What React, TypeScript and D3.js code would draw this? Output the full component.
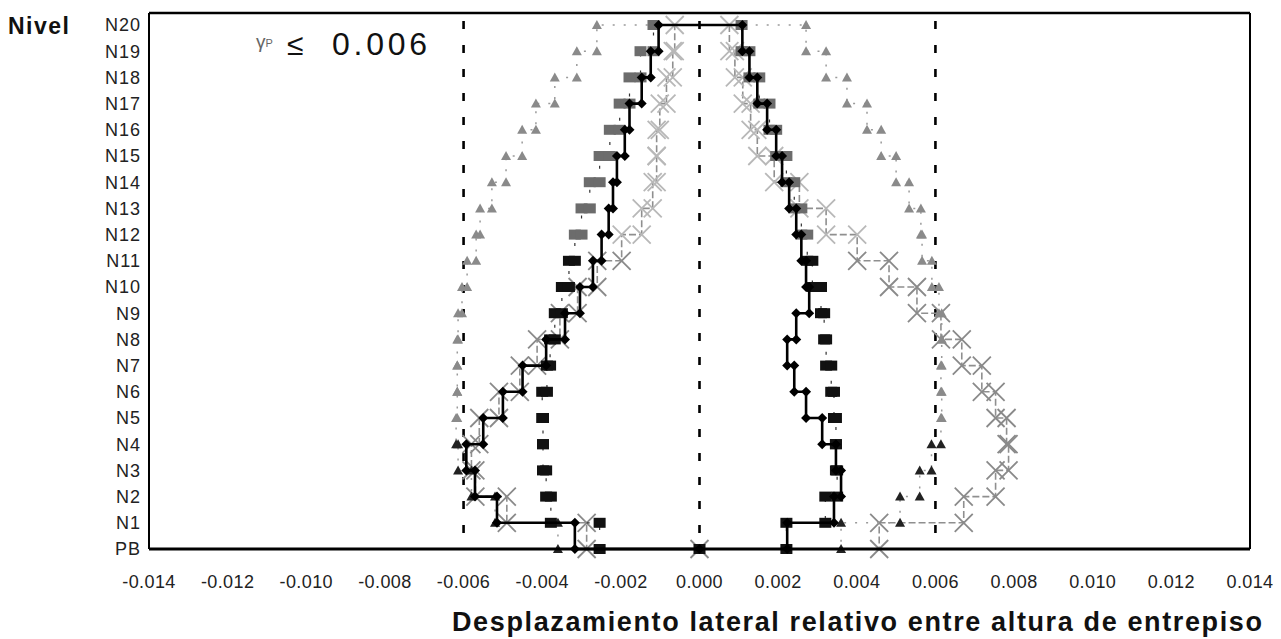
import * as d3 from "d3";

// levels from ground (PB) to roof (N20)
const levels = ["PB", "N1", "N2", "N3", "N4", "N5", "N6", "N7", "N8", "N9", "N10",
  "N11", "N12", "N13", "N14", "N15", "N16", "N17", "N18", "N19", "N20"];
const xTicks = [-0.014, -0.012, -0.010, -0.008, -0.006, -0.004, -0.002, 0.0,
  0.002, 0.004, 0.006, 0.008, 0.010, 0.012, 0.014];
const limitLines = [-0.006, 0, 0.006];

// drift per storey, storey 1 (PB-N1) ... storey 20 (N19-N20)
const diamondNeg = [-0.00317, -0.00515, -0.00571, -0.00593, -0.0055, -0.0050, -0.0045, -0.0039, -0.00342, -0.00304,
  -0.00271, -0.00249, -0.00231, -0.0022, -0.0021, -0.0019, -0.00178, -0.00147, -0.00124, -0.00104];
const diamondPos = [0.00223, 0.00342, 0.0036, 0.00347, 0.00312, 0.00271, 0.00241, 0.00223, 0.00246, 0.00279,
  0.00271, 0.00259, 0.00246, 0.00228, 0.0021, 0.00195, 0.00172, 0.00147, 0.00127, 0.00109];
const squareNeg = [-0.00254, -0.00378, -0.0039, -0.00398, -0.00398, -0.004, -0.00388, -0.0038, -0.00368, -0.0035,
  -0.00332, -0.00317, -0.003, -0.00279, -0.00254, -0.00228, -0.00203, -0.00178, -0.0015, -0.00117];
const squarePos = [0.00221, 0.0032, 0.0035, 0.00347, 0.00347, 0.00342, 0.00335, 0.00322, 0.00317, 0.00309,
  0.00287, 0.00274, 0.00259, 0.00241, 0.00221, 0.00195, 0.00178, 0.00152, 0.00127, 0.00107];
const triangleNeg = [-0.0036, -0.0052, -0.0058, -0.00614, -0.00619, -0.00616, -0.00616, -0.00616, -0.00614, -0.00604,
  -0.00591, -0.00568, -0.00558, -0.00528, -0.00492, -0.00451, -0.00416, -0.00368, -0.00312, -0.00261];
const trianglePos = [0.0036, 0.0051, 0.0056, 0.0059, 0.00614, 0.00616, 0.00614, 0.00616, 0.00616, 0.00609,
  0.00591, 0.00566, 0.00563, 0.00533, 0.005, 0.00462, 0.00426, 0.00375, 0.00322, 0.00271];
const crossNeg = [-0.00287, -0.0049, -0.0057, -0.0058, -0.0056, -0.0051, -0.00457, -0.00413, -0.00355, -0.0031,
  -0.0026, -0.00198, -0.00147, -0.00119, -0.00109, -0.00109, -0.00101, -0.00084, -0.00068, -0.00063];
const crossPos = [0.00457, 0.00672, 0.00753, 0.00786, 0.00781, 0.00753, 0.00718, 0.00667, 0.00614, 0.00553,
  0.00482, 0.00401, 0.00322, 0.00254, 0.0019, 0.00147, 0.0013, 0.0011, 0.0009, 0.00076];

const W = 1281, H = 639;
const x = d3.scaleLinear().domain([-0.014, 0.014]).range([149, 1250]);
const y = d3.scaleLinear().domain([0, 20]).range([549, 25]);
const plotTop = 13;

// closed step profile: up the negative side, across the roof, down the positive side
function stepPoints(neg: number[], pos: number[]) {
  const pts: [number, number][] = [[0, 0]];
  neg.forEach((v, i) => { pts.push([v, i]); pts.push([v, i + 1]); });
  for (let i = pos.length - 1; i >= 0; i--) { pts.push([pos[i], i + 1]); pts.push([pos[i], i]); }
  return pts;
}

const series = [
  { name: "cross", neg: crossNeg, pos: crossPos, stroke: "#8f8f8f", width: 1.6, dash: "7,3",
    color: (l: number) => (l >= 12 ? "#b8b8b8" : "#8a8a8a") },
  { name: "triangle", neg: triangleNeg, pos: trianglePos, stroke: "#9a9a9a", width: 1.5, dash: "2,9",
    color: (l: number) => (l >= 5 ? "#8a8a8a" : "#222") },
  { name: "square", neg: squareNeg, pos: squarePos, stroke: "#333", width: 1.2, dash: "3,14",
    color: (l: number) => (l >= 12 ? "#6c6c6c" : "#111") },
  { name: "diamond", neg: diamondNeg, pos: diamondPos, stroke: "#000", width: 2.6, dash: null,
    color: () => "#000" },
];

function Marker({ kind, cx, cy, color }: { kind: string; cx: number; cy: number; color: string }) {
  if (kind === "diamond") {
    return <path d={`M${cx},${cy - 5}L${cx + 5},${cy}L${cx},${cy + 5}L${cx - 5},${cy}Z`} fill={color} />;
  }
  if (kind === "square") {
    return <rect x={cx - 6} y={cy - 5} width={12} height={10} fill={color} />;
  }
  if (kind === "triangle") {
    return <path d={`M${cx},${cy - 5}L${cx + 5},${cy + 4}L${cx - 5},${cy + 4}Z`} fill={color} />;
  }
  return (
    <path d={`M${cx - 9},${cy - 9}L${cx + 9},${cy + 9}M${cx + 9},${cy - 9}L${cx - 9},${cy + 9}`}
      stroke={color} strokeWidth={1.8} fill="none" />
  );
}

export default function App() {
  const line = d3.line<[number, number]>().x((d) => x(d[0])).y((d) => y(d[1]));
  const font = "'Liberation Sans', Arial, sans-serif";

  return (
    <svg width={W} height={H} style={{ position: "absolute", left: 0, top: 0, background: "#fff" }}
      fontFamily={font}>
      <rect x={0} y={0} width={W} height={H} fill="#fff" />

      {/* limit lines */}
      {limitLines.map((v) => (
        <line key={v} x1={x(v)} x2={x(v)} y1={plotTop + 8} y2={y(0)} stroke="#000"
          strokeWidth={2.6} strokeDasharray="8,16" />
      ))}

      {/* series */}
      {series.map((s) => {
        const pts = stepPoints(s.neg, s.pos);
        return (
          <g key={s.name}>
            <path d={line(pts) || ""} fill="none" stroke={s.stroke} strokeWidth={s.width}
              strokeDasharray={s.dash || undefined} />
            {pts.map((p, i) => (
              <Marker key={i} kind={s.name} cx={x(p[0])} cy={y(p[1])} color={s.color(p[1])} />
            ))}
          </g>
        );
      })}

      {/* frame */}
      <line x1={x(-0.014)} x2={x(0.014)} y1={plotTop} y2={plotTop} stroke="#000" strokeWidth={2.5} />
      <line x1={x(-0.014)} x2={x(-0.014)} y1={plotTop} y2={y(0)} stroke="#000" strokeWidth={2} />
      <line x1={x(0.014)} x2={x(0.014)} y1={plotTop} y2={y(0)} stroke="#000" strokeWidth={2} />
      <line x1={x(-0.014)} x2={x(0.014)} y1={y(0)} y2={y(0)} stroke="#000" strokeWidth={3} />

      {/* y labels */}
      <text x={8} y={34} fontSize={23} fontWeight="bold" letterSpacing={1.5} fill="#111">Nivel</text>
      {levels.map((l, i) => (
        <text key={l} x={141} y={y(i)} dy="0.36em" textAnchor="end" fontSize={18}
          letterSpacing={1} fill="#222" stroke="#fff" strokeWidth={i === 20 ? 3 : 0}
          paintOrder="stroke">{l}</text>
      ))}

      {/* x tick labels */}
      {xTicks.map((v) => (
        <text key={v} x={x(v)} y={588} textAnchor="middle" fontSize={18} letterSpacing={0.4}
          fill="#222">{v.toFixed(3)}</text>
      ))}

      {/* annotation */}
      <text x={256} y={48} fontSize={19} fill="#666">γ<tspan fontSize={11} dy={-1}>P</tspan></text>
      <text x={287} y={55} fontSize={30} fill="#111">≤</text>
      <text x={332} y={55} fontSize={32} fill="#111" textLength={95} lengthAdjust="spacing">0.006</text>

      {/* x title */}
      <text x={452} y={631} fontSize={27} fontWeight="bold" fill="#111" textLength={810}
        lengthAdjust="spacing">Desplazamiento lateral relativo entre altura de entrepiso</text>
    </svg>
  );
}
